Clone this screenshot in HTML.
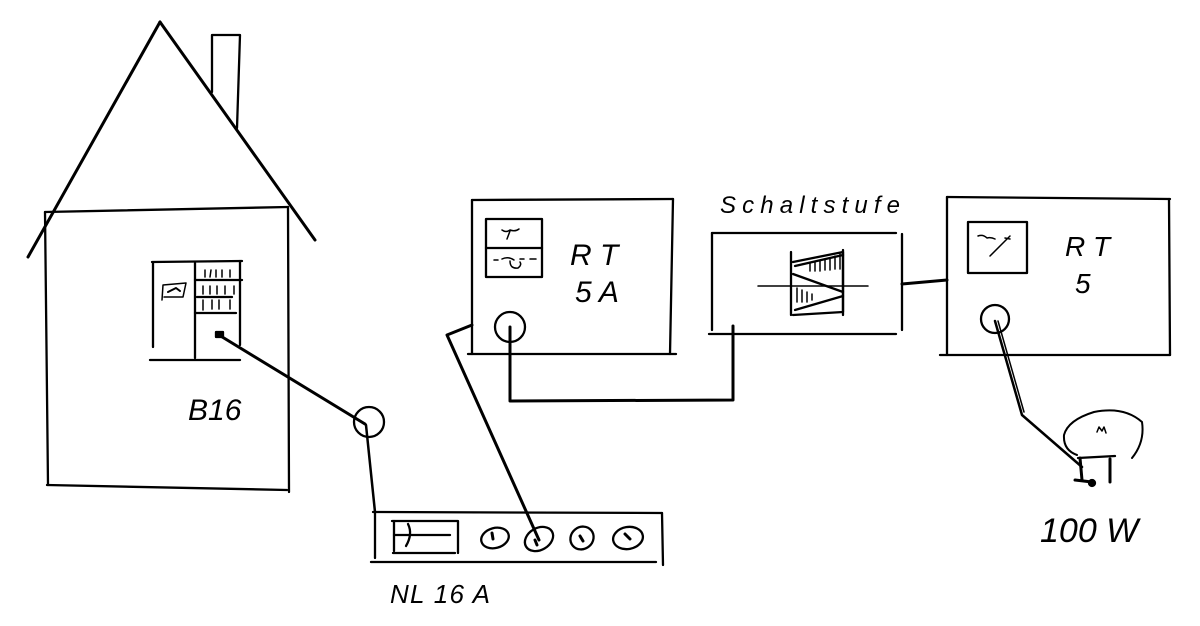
<!DOCTYPE html>
<html><head><meta charset="utf-8"><style>
html,body{margin:0;padding:0;background:#fff;}
svg{display:block;}
text{font-family:"Liberation Sans",sans-serif;font-style:italic;fill:#000;}
</style></head><body>
<svg width="1200" height="626" viewBox="0 0 1200 626" xmlns="http://www.w3.org/2000/svg">
<g stroke="#000" fill="none" stroke-width="2.3" stroke-linecap="round" stroke-linejoin="round">
<!-- house -->
<line x1="160" y1="22" x2="28" y2="257" stroke-width="3"/>
<line x1="160" y1="22" x2="315" y2="240" stroke-width="3"/>
<polyline points="212,92 212,35 240,35 237,128"/>
<line x1="45" y1="212" x2="288" y2="207"/>
<line x1="45" y1="212" x2="48" y2="485"/>
<line x1="288" y1="207" x2="289" y2="492"/>
<line x1="47" y1="485" x2="287" y2="490"/>
<!-- panel -->
<line x1="153" y1="263" x2="153" y2="347"/>
<line x1="152" y1="262" x2="242" y2="261"/>
<line x1="150" y1="360" x2="240" y2="360"/>
<line x1="195" y1="263" x2="195" y2="358"/>
<line x1="240" y1="261" x2="240" y2="345"/>
<line x1="195" y1="280" x2="242" y2="280"/>
<line x1="197" y1="297" x2="232" y2="297"/>
<line x1="195" y1="313" x2="236" y2="313"/>
<polyline points="162,300 163,285 186,283 183,297 164,297" stroke-width="1.5"/>
<path d="M168,292 l8,-4 l4,3" stroke-width="2"/>
<path d="M205,270 l0,7 M211,270 l-1,7 M216,270 l0,7 M222,270 l0,7 M230,270 l0,7 M203,286 l0,8 M210,286 l0,8 M217,286 l0,8 M225,286 l0,8 M234,286 l0,8 M203,300 l0,10 M212,300 l0,9 M219,300 l0,9 M230,300 l0,9" stroke-width="1.5"/>
<line x1="219" y1="335" x2="365" y2="424" stroke-width="3"/>
<rect x="216" y="332" width="7" height="5" fill="#000"/>
<circle cx="369" cy="422" r="15"/>
<line x1="366" y1="425" x2="375" y2="512" stroke-width="2.5"/>
<!-- NL box -->
<line x1="373" y1="512" x2="662" y2="513"/>
<line x1="375" y1="512" x2="375" y2="558"/>
<line x1="371" y1="562" x2="656" y2="562"/>
<line x1="662" y1="513" x2="663" y2="565"/>
<polyline points="392,521 458,521 458,553"/>
<line x1="393" y1="553" x2="455" y2="553"/>
<line x1="394" y1="521" x2="394" y2="551"/>
<line x1="394" y1="535" x2="450" y2="535"/>
<path d="M408,524 q5,10 -2,22" />
<ellipse cx="495" cy="538" rx="14" ry="10" transform="rotate(-15 495 538)"/>
<ellipse cx="539" cy="539" rx="15" ry="11" transform="rotate(-30 539 539)"/>
<ellipse cx="582" cy="538" rx="12" ry="11" transform="rotate(-40 582 538)"/>
<ellipse cx="628" cy="538" rx="15" ry="11" transform="rotate(-10 628 538)"/>
<path d="M492,533 l1,6 M535,540 l2,5 M580,536 l3,5 M625,534 l5,5" stroke-width="3"/>
<!-- RT 5A -->
<line x1="472" y1="200" x2="673" y2="199"/>
<line x1="472" y1="200" x2="472" y2="354"/>
<line x1="673" y1="199" x2="670" y2="354"/>
<line x1="468" y1="354" x2="676" y2="354"/>
<rect x="486" y="219" width="56" height="58"/>
<line x1="486" y1="248" x2="542" y2="248"/>
<path d="M502,230 q4,3 8,0 q5,2 9,-1 M510,231 l-3,8" stroke-width="1.5"/>
<path d="M494,260 l4,0 M502,259 q6,-3 12,1 M520,259 l4,0 M530,259 l6,0 M510,261 q0,8 8,7 q4,-3 2,-6" stroke-width="1.5"/>
<circle cx="510" cy="327" r="15"/>
<polyline points="510,327 510,401 733,400 733,326" stroke-width="3"/>
<polyline points="472,325 447,335 539,540" stroke-width="3"/>
<!-- Schaltstufe -->
<line x1="712" y1="233" x2="896" y2="233"/>
<line x1="712" y1="233" x2="712" y2="330"/>
<line x1="902" y1="234" x2="902" y2="330"/>
<line x1="709" y1="334" x2="896" y2="334"/>
<line x1="758" y1="286" x2="868" y2="286" stroke-width="1.5"/>
<line x1="791" y1="252" x2="791" y2="315"/>
<line x1="843" y1="250" x2="843" y2="315"/>
<polyline points="793,262 843,252 843,312 793,315"/>
<line x1="793" y1="274" x2="843" y2="292"/>
<line x1="795" y1="266" x2="843" y2="255"/>
<line x1="795" y1="310" x2="843" y2="296"/>
<path d="M810,263 l0,8 M815,262 l0,9 M820,261 l0,10 M825,259 l0,11 M830,258 l0,12 M835,256 l0,13 M840,254 l0,15 M797,288 l0,14 M802,290 l0,12 M807,292 l0,10 M812,294 l0,6" stroke-width="1.5"/>
<line x1="902" y1="284" x2="947" y2="280" stroke-width="3"/>
<!-- RT 5 -->
<line x1="947" y1="197" x2="1170" y2="199"/>
<line x1="947" y1="197" x2="947" y2="355"/>
<line x1="1169" y1="199" x2="1170" y2="355"/>
<line x1="940" y1="355" x2="1170" y2="355"/>
<rect x="968" y="222" width="59" height="51"/>
<path d="M978,236 q5,-2 9,2 q4,-1 8,1 M990,256 l20,-20 M1005,238 l5,1" stroke-width="1.5"/>
<circle cx="995" cy="319" r="14"/>
<polyline points="995,321 1022,415 1082,467" stroke-width="2.5"/>
<line x1="998" y1="321" x2="1024" y2="412" stroke-width="1.5"/>
<path d="M1077,455 q-14,-5 -13,-20 q4,-15 30,-23 q30,-6 48,10 q3,20 -10,36" stroke-width="2"/>
<line x1="1078" y1="458" x2="1115" y2="456"/>
<path d="M1097,432 l2,-5 l3,4 l2,-4 l2,6" stroke-width="1.5"/>
<line x1="1080" y1="458" x2="1082" y2="480" stroke-width="3"/>
<line x1="1110" y1="459" x2="1110" y2="482" stroke-width="3"/>
<line x1="1075" y1="480" x2="1092" y2="482" stroke-width="3"/>
<circle cx="1092" cy="483" r="3" fill="#000"/>
</g>
<text x="188" y="420" font-size="30">B16</text>
<text x="390" y="603" font-size="26" textLength="100" lengthAdjust="spacing">NL 16 A</text>
<text x="570" y="265" font-size="30">R T</text>
<text x="575" y="302" font-size="30">5 A</text>
<text x="720" y="213" font-size="24" textLength="180" lengthAdjust="spacing">Schaltstufe</text>
<text x="1065" y="256" font-size="28">R T</text>
<text x="1075" y="293" font-size="28">5</text>
<text x="1040" y="542" font-size="34">100 W</text>
</svg>
</body></html>
